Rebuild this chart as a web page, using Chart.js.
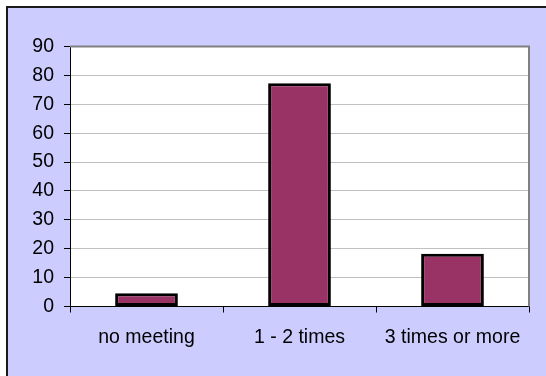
<!DOCTYPE html>
<html>
<head>
<meta charset="utf-8">
<script src="https://cdn.jsdelivr.net/npm/chart.js@4/dist/chart.umd.min.js"></script>
<style>
  html, body { margin: 0; padding: 0; background: #ffffff; overflow: hidden; }
  #wrap { position: relative; width: 546px; height: 376px; }
</style>
</head>
<body>
<div id="wrap"><canvas id="c" width="546" height="376"></canvas></div>
<script>
// Number of meetings per respondent group
const categories = ['no meeting', '1 - 2 times', '3 times or more'];
const values = [4.6, 77.3, 18.3];
const yTicks = [0, 10, 20, 30, 40, 50, 60, 70, 80, 90];

const FONT = "'Liberation Sans', Arial, sans-serif";

// Lavender chart panel with dark frame, white plot area and grey plot border
const panelPlugin = {
  id: 'panel',
  beforeDraw(chart) {
    const ctx = chart.ctx;
    const a = chart.chartArea;
    ctx.save();
    ctx.fillStyle = '#ffffff';
    ctx.fillRect(0, 0, chart.width, chart.height);
    ctx.fillStyle = '#CCCCFF';
    ctx.fillRect(7, 7, chart.width - 7, chart.height - 7);
    ctx.strokeStyle = '#1a1a1a';
    ctx.lineWidth = 2;
    ctx.beginPath();
    ctx.moveTo(7, chart.height);
    ctx.lineTo(7, 7);
    ctx.lineTo(chart.width, 7);
    ctx.stroke();
    ctx.fillStyle = '#ffffff';
    ctx.fillRect(a.left, a.top, a.right - a.left, a.bottom - a.top);
    ctx.restore();
  },
  afterDraw(chart) {
    const ctx = chart.ctx;
    const a = chart.chartArea;
    ctx.save();
    ctx.strokeStyle = '#808080';
    ctx.lineWidth = 2;
    ctx.beginPath();
    ctx.moveTo(a.left, a.top);
    ctx.lineTo(a.right, a.top);
    ctx.lineTo(a.right, a.bottom);
    ctx.stroke();
    ctx.restore();
  }
};

new Chart(document.getElementById('c'), {
  type: 'bar',
  data: {
    labels: categories,
    datasets: [{
      data: values,
      backgroundColor: '#993366',
      borderColor: '#000000',
      borderWidth: 3,
      borderSkipped: false,
      categoryPercentage: 1,
      barPercentage: 0.41
    }]
  },
  options: {
    responsive: false,
    animation: false,
    devicePixelRatio: 1,
    layout: { padding: { top: 46.5, right: 17, left: 0, bottom: 0 } },
    plugins: { legend: { display: false }, tooltip: { enabled: false } },
    scales: {
      x: {
        offset: true,
        afterFit(scale) { scale.height = 69.5; },
        grid: {
          offset: true,
          drawOnChartArea: false,
          drawTicks: true,
          tickLength: 6,
          tickColor: '#000000',
          color: '#000000'
        },
        border: { display: true, color: '#000000', width: 1 },
        ticks: {
          color: '#000000',
          font: { family: FONT, size: 19.5 },
          padding: 13.5,
          maxRotation: 0
        }
      },
      y: {
        min: 0,
        max: 90,
        afterFit(scale) { scale.width = 70; },
        afterBuildTicks(scale) { scale.ticks = yTicks.map(v => ({ value: v })); },
        grid: {
          color: '#C0C0C0',
          lineWidth: 1,
          drawTicks: true,
          tickLength: 6,
          tickColor: '#000000'
        },
        border: { display: true, color: '#000000', width: 1 },
        ticks: {
          color: '#000000',
          font: { family: FONT, size: 19.5 },
          padding: 10
        }
      }
    }
  },
  plugins: [panelPlugin]
});
</script>
</body>
</html>
